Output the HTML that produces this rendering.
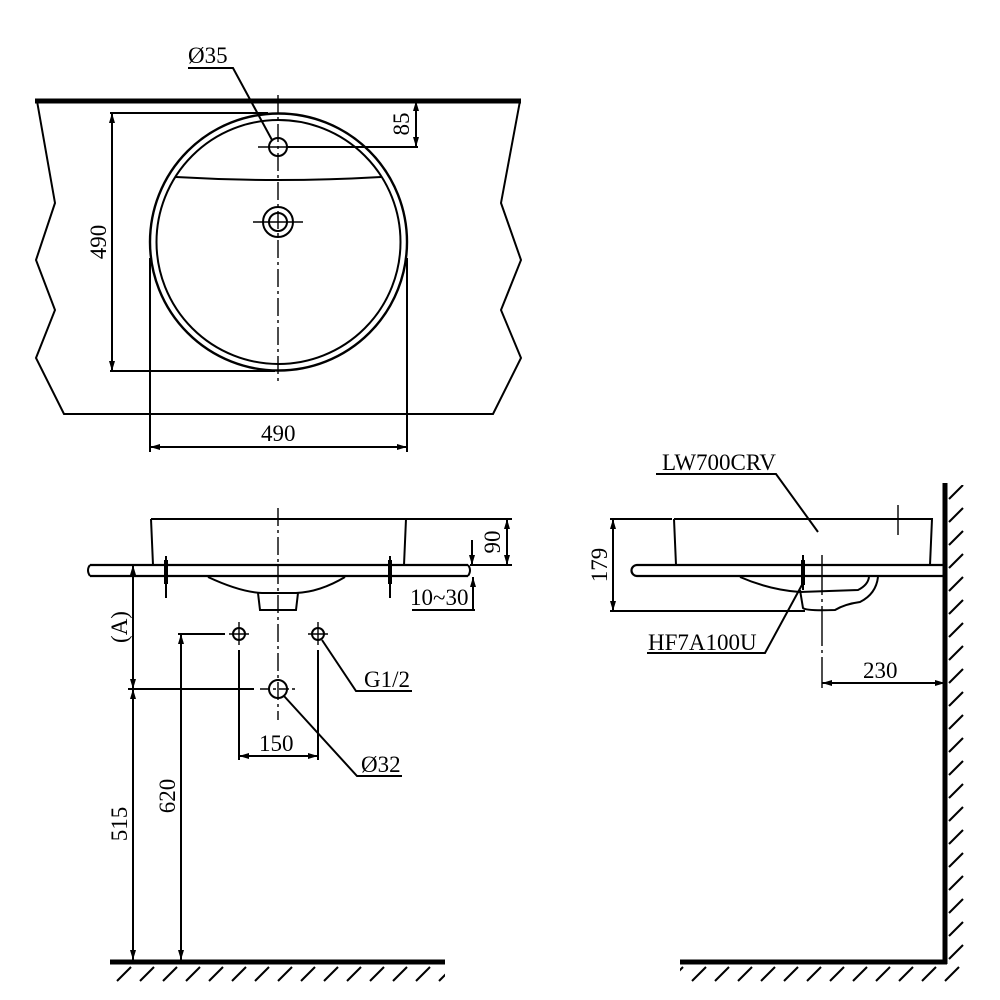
<!DOCTYPE html>
<html><head><meta charset="utf-8"><style>html,body{margin:0;padding:0;background:#fff}svg{display:block}text{font-family:"Liberation Serif",serif;fill:#000}</style></head>
<body>
<svg width="1000" height="1000" viewBox="0 0 1000 1000" xmlns="http://www.w3.org/2000/svg">
<defs>
<pattern id="hf" patternUnits="userSpaceOnUse" x="0" y="964" width="23" height="20"><line x1="2" y1="17" x2="16" y2="3" stroke="#000" stroke-width="2"/></pattern>
<pattern id="hw" patternUnits="userSpaceOnUse" x="948" y="0" width="20" height="23"><line x1="1" y1="16" x2="15" y2="2" stroke="#000" stroke-width="2"/></pattern>
<marker id="a" viewBox="0 0 10 6" refX="10" refY="3" markerWidth="11" markerHeight="6" orient="auto-start-reverse" markerUnits="userSpaceOnUse"><path d="M0,0 L10,3 L0,6 z" fill="#000"/></marker>
</defs>
<g fill="none" stroke="#000" stroke-width="2">
<!-- TOP VIEW -->
<line x1="35" y1="101" x2="521" y2="101" stroke-width="5"/>
<polyline points="37,101 55,203 36,260 55,310 36,358 64,414 493,414 521,358 501,310 521,260 501,203 520,101"/>
<circle cx="278.5" cy="242" r="128.5" stroke-width="2.4"/>
<circle cx="278.5" cy="242" r="122"/>
<path d="M176,177 Q278,183 381,177" stroke-width="2"/>
<circle cx="278" cy="147" r="9"/>
<circle cx="278" cy="222" r="15"/>
<circle cx="278" cy="222" r="9"/>
<line x1="278" y1="95" x2="278" y2="385" stroke-width="1.4" stroke-dasharray="18,4,3,4"/>
<line x1="258" y1="147" x2="298" y2="147" stroke-width="1.4"/>
<line x1="253" y1="222" x2="303" y2="222" stroke-width="1.4"/>
<!-- dims top -->
<line x1="110" y1="113" x2="268" y2="113"/>
<line x1="110" y1="371" x2="275" y2="371"/>
<line x1="112" y1="113" x2="112" y2="371" marker-start="url(#a)" marker-end="url(#a)"/>
<line x1="150" y1="258" x2="150" y2="452"/>
<line x1="407" y1="258" x2="407" y2="452"/>
<line x1="150" y1="447" x2="407" y2="447" marker-start="url(#a)" marker-end="url(#a)"/>
<line x1="286" y1="147" x2="418" y2="147"/>
<line x1="416" y1="101" x2="416" y2="147" marker-start="url(#a)" marker-end="url(#a)"/>
<polyline points="188,68 233,68 272,140"/>
<!-- FRONT VIEW -->
<path d="M151,519 L406,519 L404,565 M151,519 L153,565"/>
<line x1="90" y1="565" x2="468" y2="565" stroke-width="2.2"/>
<line x1="90" y1="576" x2="468" y2="576" stroke-width="2.2"/>
<path d="M90,565 Q86,570 90,576 M468,565 Q472,570 468,576"/>
<path d="M208,577 Q240,592 262,593 L296,593 Q320,592 345,577" stroke-width="2"/>
<path d="M258,593 L260,610 L296,610 L298,593" stroke-width="2"/>
<g stroke-width="4"><line x1="166" y1="560" x2="166" y2="584"/><line x1="390" y1="560" x2="390" y2="584"/></g>
<line x1="166" y1="556" x2="166" y2="598"/>
<line x1="390" y1="556" x2="390" y2="598"/>
<line x1="278" y1="508" x2="278" y2="720" stroke-width="1.4" stroke-dasharray="18,4,3,4"/>
<line x1="406" y1="519" x2="512" y2="519"/>
<line x1="470" y1="565" x2="512" y2="565"/>
<line x1="507" y1="519" x2="507" y2="565" marker-start="url(#a)" marker-end="url(#a)"/>
<line x1="472" y1="540" x2="472" y2="565" marker-end="url(#a)"/>
<line x1="473" y1="610" x2="473" y2="577" marker-end="url(#a)"/>
<line x1="412" y1="610" x2="475" y2="610"/>
<line x1="133" y1="565" x2="133" y2="689" marker-start="url(#a)" marker-end="url(#a)"/>
<line x1="133" y1="689" x2="133" y2="960" marker-start="url(#a)" marker-end="url(#a)"/>
<line x1="181" y1="634" x2="181" y2="960" marker-start="url(#a)" marker-end="url(#a)"/>
<line x1="128" y1="689" x2="254" y2="689"/>
<line x1="260" y1="689" x2="298" y2="689" stroke-width="1.4" stroke-dasharray="10,3,3,3"/>
<line x1="178" y1="634" x2="225" y2="634"/>
<circle cx="239" cy="634" r="6"/><circle cx="318" cy="634" r="6"/><circle cx="278" cy="689" r="9"/>
<g stroke-width="1.4"><line x1="229" y1="634" x2="249" y2="634"/><line x1="239" y1="622" x2="239" y2="645"/>
<line x1="308" y1="634" x2="328" y2="634"/><line x1="318" y1="622" x2="318" y2="645"/></g>
<line x1="239" y1="650" x2="239" y2="760"/>
<line x1="318" y1="650" x2="318" y2="760"/>
<line x1="239" y1="756" x2="318" y2="756" marker-start="url(#a)" marker-end="url(#a)"/>
<polyline points="412,691 356,691 322,640"/>
<polyline points="402,776 357,776 284,696"/>
<line x1="110" y1="962" x2="445" y2="962" stroke-width="5"/>
<rect x="110" y="964" width="335" height="18" fill="url(#hf)" stroke="none"/>
<!-- SIDE VIEW -->
<line x1="945" y1="483" x2="945" y2="964" stroke-width="5"/>
<line x1="680" y1="962" x2="947" y2="962" stroke-width="5"/>
<rect x="680" y="964" width="285" height="18" fill="url(#hf)" stroke="none"/>
<rect x="948" y="485" width="18" height="477" fill="url(#hw)" stroke="none"/>
<path d="M674,519 L932,519 L930,565 M674,519 L676,565"/>
<path d="M945,565 L637,565 A5.5,5.5 0 0 0 637,576 L945,576" stroke-width="2.2"/>
<path d="M740,577 Q770,590 800,592 L858,590 Q868,585 869,577" stroke-width="2"/>
<path d="M800,590 L803,608 Q806,611 835,610 Q845,604 860,602 Q876,594 878,577" stroke-width="2"/>
<line x1="803" y1="555" x2="803" y2="590"/>
<line x1="803" y1="560" x2="803" y2="585" stroke-width="4"/>
<line x1="822" y1="555" x2="822" y2="688" stroke-width="1.4" stroke-dasharray="40,4,3,4"/>
<line x1="898" y1="505" x2="898" y2="535" stroke-width="1.4"/>
<line x1="610" y1="519" x2="672" y2="519"/>
<line x1="610" y1="611" x2="805" y2="611"/>
<line x1="613" y1="519" x2="613" y2="611" marker-start="url(#a)" marker-end="url(#a)"/>
<line x1="822" y1="683" x2="945" y2="683" marker-start="url(#a)" marker-end="url(#a)"/>
<polyline points="656,474 776,474 818,532"/>
<polyline points="647,653 765,653 803,583"/>
</g>
<g font-size="23">
<text x="188" y="63">Ø35</text>
<text x="261" y="441">490</text>
<text transform="translate(106,242) rotate(-90)" text-anchor="middle">490</text>
<text transform="translate(409,124) rotate(-90)" text-anchor="middle">85</text>
<text transform="translate(500,542) rotate(-90)" text-anchor="middle">90</text>
<text x="410" y="605">10~30</text>
<text transform="translate(127,627) rotate(-90)" text-anchor="middle">(A)</text>
<text transform="translate(127,824) rotate(-90)" text-anchor="middle">515</text>
<text transform="translate(175,796) rotate(-90)" text-anchor="middle">620</text>
<text x="259" y="751">150</text>
<text x="364" y="687">G1/2</text>
<text x="361" y="772">Ø32</text>
<text x="662" y="470">LW700CRV</text>
<text transform="translate(607,565) rotate(-90)" text-anchor="middle">179</text>
<text x="648" y="650">HF7A100U</text>
<text x="863" y="678">230</text>
</g>
</svg>
</body></html>
